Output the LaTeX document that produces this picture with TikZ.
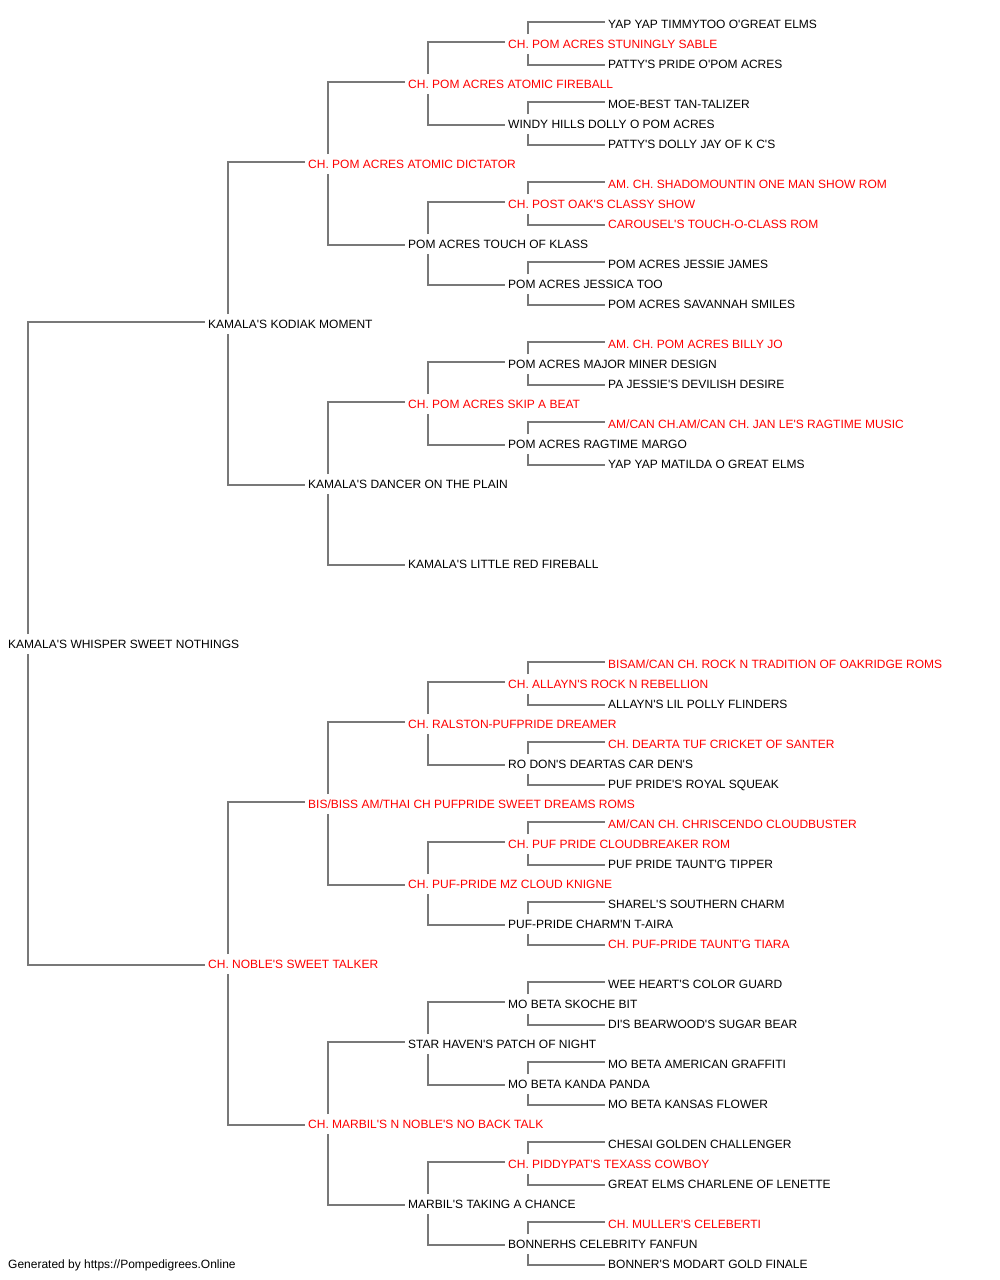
\documentclass[tikz,border=0pt]{standalone}
\usepackage{fontspec}
\setmainfont{Liberation Sans}[Ligatures=TeXOff]
\definecolor{linegray}{RGB}{120,120,120}
\definecolor{namered}{RGB}{255,0,0}
\tikzset{
  nm/.style={anchor=west, inner sep=0pt, text height=8.6pt, text depth=0pt, font=\fontsize{12}{14}\selectfont, text=black},
  rd/.style={nm, text=namered},
  ln/.style={draw=linegray, line width=1.5pt}
}
\newcommand\upl[2]{\draw[ln] ([xshift=20pt,yshift=10pt]#1.west) |- ([xshift=-3pt,yshift=2pt]#2.west);}
\newcommand\dnl[2]{\draw[ln] ([xshift=20pt,yshift=-10pt]#1.west) |- ([xshift=-3pt,yshift=-1pt]#2.west);}
\begin{document}
\begin{tikzpicture}[x=1pt,y=-1pt]
\useasboundingbox (0,0) rectangle (1000,1280);
% generation 0
\node[nm] (g0) at (8,644) {KAMALA'S WHISPER SWEET NOTHINGS};
% generation 1
\node[nm] (a1) at (208,324) {KAMALA'S KODIAK MOMENT};
\node[rd] (a2) at (208,964) {CH. NOBLE'S SWEET TALKER};
% generation 2
\node[rd] (b1) at (308,164) {CH. POM ACRES ATOMIC DICTATOR};
\node[nm] (b2) at (308,484) {KAMALA'S DANCER ON THE PLAIN};
\node[rd] (b3) at (308,804) {BIS/BISS AM/THAI CH PUFPRIDE SWEET DREAMS ROMS};
\node[rd] (b4) at (308,1124) {CH. MARBIL'S N NOBLE'S NO BACK TALK};
% generation 3
\node[rd] (c1) at (408,84) {CH. POM ACRES ATOMIC FIREBALL};
\node[nm] (c2) at (408,244) {POM ACRES TOUCH OF KLASS};
\node[rd] (c3) at (408,404) {CH. POM ACRES SKIP A BEAT};
\node[nm] (c4) at (408,564) {KAMALA'S LITTLE RED FIREBALL};
\node[rd] (c5) at (408,724) {CH. RALSTON-PUFPRIDE DREAMER};
\node[rd] (c6) at (408,884) {CH. PUF-PRIDE MZ CLOUD KNIGNE};
\node[nm] (c7) at (408,1044) {STAR HAVEN'S PATCH OF NIGHT};
\node[nm] (c8) at (408,1204) {MARBIL'S TAKING A CHANCE};
% generation 4
\node[rd] (d1) at (508,44) {CH. POM ACRES STUNINGLY SABLE};
\node[nm] (d2) at (508,124) {WINDY HILLS DOLLY O POM ACRES};
\node[rd] (d3) at (508,204) {CH. POST OAK'S CLASSY SHOW};
\node[nm] (d4) at (508,284) {POM ACRES JESSICA TOO};
\node[nm] (d5) at (508,364) {POM ACRES MAJOR MINER DESIGN};
\node[nm] (d6) at (508,444) {POM ACRES RAGTIME MARGO};
\node[rd] (d9) at (508,684) {CH. ALLAYN'S ROCK N REBELLION};
\node[nm] (d10) at (508,764) {RO DON'S DEARTAS CAR DEN'S};
\node[rd] (d11) at (508,844) {CH. PUF PRIDE CLOUDBREAKER ROM};
\node[nm] (d12) at (508,924) {PUF-PRIDE CHARM'N T-AIRA};
\node[nm] (d13) at (508,1004) {MO BETA SKOCHE BIT};
\node[nm] (d14) at (508,1084) {MO BETA KANDA PANDA};
\node[rd] (d15) at (508,1164) {CH. PIDDYPAT'S TEXASS COWBOY};
\node[nm] (d16) at (508,1244) {BONNERHS CELEBRITY FANFUN};
% generation 5
\node[nm] (e1) at (608,24) {YAP YAP TIMMYTOO O'GREAT ELMS};
\node[nm] (e2) at (608,64) {PATTY'S PRIDE O'POM ACRES};
\node[nm] (e3) at (608,104) {MOE-BEST TAN-TALIZER};
\node[nm] (e4) at (608,144) {PATTY'S DOLLY JAY OF K C'S};
\node[rd] (e5) at (608,184) {AM. CH. SHADOMOUNTIN ONE MAN SHOW ROM};
\node[rd] (e6) at (608,224) {CAROUSEL'S TOUCH-O-CLASS ROM};
\node[nm] (e7) at (608,264) {POM ACRES JESSIE JAMES};
\node[nm] (e8) at (608,304) {POM ACRES SAVANNAH SMILES};
\node[rd] (e9) at (608,344) {AM. CH. POM ACRES BILLY JO};
\node[nm] (e10) at (608,384) {PA JESSIE'S DEVILISH DESIRE};
\node[rd] (e11) at (608,424) {AM/CAN CH.AM/CAN CH. JAN LE'S RAGTIME MUSIC};
\node[nm] (e12) at (608,464) {YAP YAP MATILDA O GREAT ELMS};
\node[rd] (e17) at (608,664) {BISAM/CAN CH. ROCK N TRADITION OF OAKRIDGE ROMS};
\node[nm] (e18) at (608,704) {ALLAYN'S LIL POLLY FLINDERS};
\node[rd] (e19) at (608,744) {CH. DEARTA TUF CRICKET OF SANTER};
\node[nm] (e20) at (608,784) {PUF PRIDE'S ROYAL SQUEAK};
\node[rd] (e21) at (608,824) {AM/CAN CH. CHRISCENDO CLOUDBUSTER};
\node[nm] (e22) at (608,864) {PUF PRIDE TAUNT'G TIPPER};
\node[nm] (e23) at (608,904) {SHAREL'S SOUTHERN CHARM};
\node[rd] (e24) at (608,944) {CH. PUF-PRIDE TAUNT'G TIARA};
\node[nm] (e25) at (608,984) {WEE HEART'S COLOR GUARD};
\node[nm] (e26) at (608,1024) {DI'S BEARWOOD'S SUGAR BEAR};
\node[nm] (e27) at (608,1064) {MO BETA AMERICAN GRAFFITI};
\node[nm] (e28) at (608,1104) {MO BETA KANSAS FLOWER};
\node[nm] (e29) at (608,1144) {CHESAI GOLDEN CHALLENGER};
\node[nm] (e30) at (608,1184) {GREAT ELMS CHARLENE OF LENETTE};
\node[rd] (e31) at (608,1224) {CH. MULLER'S CELEBERTI};
\node[nm] (e32) at (608,1264) {BONNER'S MODART GOLD FINALE};
% footer
\node[nm] (foot) at (8,1264) {Generated by https://Pompedigrees.Online};
% connectors
\upl{g0}{a1} \dnl{g0}{a2}
\upl{a1}{b1} \dnl{a1}{b2}
\upl{a2}{b3} \dnl{a2}{b4}
\upl{b1}{c1} \dnl{b1}{c2}
\upl{b2}{c3} \dnl{b2}{c4}
\upl{b3}{c5} \dnl{b3}{c6}
\upl{b4}{c7} \dnl{b4}{c8}
\upl{c1}{d1} \dnl{c1}{d2}
\upl{c2}{d3} \dnl{c2}{d4}
\upl{c3}{d5} \dnl{c3}{d6}
\upl{c5}{d9} \dnl{c5}{d10}
\upl{c6}{d11} \dnl{c6}{d12}
\upl{c7}{d13} \dnl{c7}{d14}
\upl{c8}{d15} \dnl{c8}{d16}
\upl{d1}{e1} \dnl{d1}{e2}
\upl{d2}{e3} \dnl{d2}{e4}
\upl{d3}{e5} \dnl{d3}{e6}
\upl{d4}{e7} \dnl{d4}{e8}
\upl{d5}{e9} \dnl{d5}{e10}
\upl{d6}{e11} \dnl{d6}{e12}
\upl{d9}{e17} \dnl{d9}{e18}
\upl{d10}{e19} \dnl{d10}{e20}
\upl{d11}{e21} \dnl{d11}{e22}
\upl{d12}{e23} \dnl{d12}{e24}
\upl{d13}{e25} \dnl{d13}{e26}
\upl{d14}{e27} \dnl{d14}{e28}
\upl{d15}{e29} \dnl{d15}{e30}
\upl{d16}{e31} \dnl{d16}{e32}
\end{tikzpicture}
\end{document}
